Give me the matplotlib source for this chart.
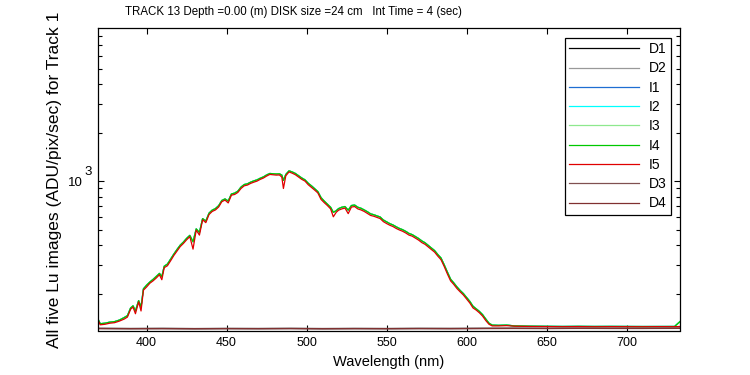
import matplotlib
matplotlib.use("Agg")
import matplotlib.pyplot as plt
from matplotlib.ticker import FixedLocator, LogLocator, NullFormatter

# wavelength grid (nm) of the light spectra
wl = [369.6, 371, 374, 377, 380, 383, 386, 388, 390, 391.5, 393, 395, 396.5, 398,
      400, 402, 404, 406, 408, 409.5, 411, 413, 415, 417, 419, 421, 423, 425, 427,
      429, 431, 433, 435, 437, 439, 441, 443, 445, 447, 449, 451, 453, 455, 457,
      459, 461, 463, 465, 467, 469, 471, 473, 475, 477, 479, 481, 483, 484.5, 485.5,
      487, 489, 491, 493, 495, 497, 499, 501, 503, 505, 507, 509, 511, 513, 515,
      516.7, 518.5, 520, 522, 524, 526, 528, 530, 532, 534, 536, 538, 540, 542,
      544, 546, 548, 550, 552, 554, 556, 558, 560, 562, 564, 566, 568, 570, 572,
      574, 576, 578, 580, 582, 584, 586, 588, 590, 592, 594, 596, 598, 600, 602,
      604, 606, 608, 610, 612, 614, 616, 620, 625, 630, 640, 650, 660, 670, 680,
      690, 700, 710, 720, 730, 733.4]

# I5 (red)
lu_i5 = [137, 128, 129, 131, 132, 135, 139, 143, 160, 165, 150, 178, 156, 210,
         220, 232, 240, 250, 262, 244, 290, 298, 320, 345, 368, 392, 410, 432, 452,
         378, 496, 462, 575, 552, 620, 648, 662, 690, 745, 762, 732, 818, 826, 850,
         900, 935, 945, 968, 985, 1000, 1025, 1045, 1075, 1100, 1095, 1090, 1092, 1060, 900,
         1080, 1140, 1120, 1095, 1060, 1025, 1000, 950, 915, 880, 845, 770, 735, 705, 672,
         600, 640, 660, 672, 680, 628, 690, 695, 672, 662, 648, 630, 612, 605,
         595, 585, 560, 545, 532, 522, 508, 497, 488, 476, 462, 455, 442, 430, 415,
         405, 390, 376, 362, 342, 325, 295, 265, 240, 228, 215, 205, 196, 185, 175,
         163, 158, 152, 145, 136, 129, 126, 126, 126.5, 125.5, 125, 124.8, 124.6, 124.8, 124.5,
         124.7, 124.6, 124.5, 124.7, 124.6, 125]

# I4 (green); I1-I3 sit right underneath it
lu_i4 = [139, 130, 131, 133, 134, 137, 142, 146, 163, 168, 156, 181, 165, 214,
         226, 236, 245, 256, 267, 255, 296, 305, 328, 352, 376, 400, 418, 441, 460,
         420, 505, 480, 585, 565, 632, 660, 675, 703, 758, 775, 752, 832, 842, 866,
         918, 952, 962, 985, 1003, 1018, 1042, 1062, 1092, 1115, 1112, 1108, 1110, 1090, 1010,
         1100, 1158, 1140, 1115, 1080, 1045, 1018, 970, 935, 898, 862, 790, 752, 720, 688,
         640, 655, 675, 688, 695, 660, 705, 710, 688, 678, 662, 645, 626, 618,
         608, 598, 573, 558, 544, 534, 520, 508, 499, 487, 473, 465, 452, 440, 425,
         414, 399, 385, 370, 350, 333, 302, 272, 246, 233, 220, 209, 200, 189, 179,
         167, 161, 155, 148, 139, 131, 127.5, 127, 127.5, 126, 125.5, 125.3, 125, 125.2, 125,
         125.1, 125, 124.9, 125, 125, 134]
lu_i1 = lu_i4
lu_i2 = lu_i4
lu_i3 = lu_i4

# dark frames
wl_dark = [369.6, 390, 410, 430, 450, 470, 490, 510, 530, 550, 570, 590, 610,
           630, 650, 670, 690, 710, 733.4]
lu_d1 = [121.6, 121.3, 121.5, 121.2, 121.4, 121.3, 121.5, 121.2, 121.4, 121.3,
         121.5, 121.4, 121.6, 121.8, 121.6, 121.9, 121.7, 121.8, 122.0]
lu_d2 = [121.9, 121.6, 121.8, 121.5, 121.7, 121.6, 121.8, 121.6, 121.7, 121.5,
         121.8, 121.7, 121.9, 122.1, 121.9, 122.2, 122.0, 122.1, 122.3]
lu_d3 = [121.2, 121.0, 121.1, 120.9, 121.1, 121.0, 121.2, 120.9, 121.1, 121.0,
         121.2, 121.1, 121.3, 121.4, 121.3, 121.5, 121.4, 121.4, 121.6]
lu_d4 = [121.4, 121.2, 121.3, 121.1, 121.3, 121.2, 121.4, 121.1, 121.3, 121.2,
         121.4, 121.3, 121.5, 121.6, 121.5, 121.7, 121.6, 121.6, 121.8]

x_ticks = [400, 450, 500, 550, 600, 650, 700]
y_decades = [3]

plt.rcParams['font.family'] = ['Liberation Sans', 'DejaVu Sans']

fig = plt.figure(figsize=(7.5, 3.75), dpi=100)
ax = fig.add_axes([98 / 750, 1 - 330.5 / 375, 582 / 750, 302.2 / 375])

series = [
    ("D1", wl_dark, lu_d1, "black"),
    ("D2", wl_dark, lu_d2, "#999999"),
    ("I1", wl, lu_i1, "#1e6ed2"),
    ("I2", wl, lu_i2, "#00ffff"),
    ("I3", wl, lu_i3, "#8ee88e"),
    ("I4", wl, lu_i4, "#00c800"),
    ("I5", wl, lu_i5, "#e00000"),
    ("D3", wl_dark, lu_d3, "#805050"),
    ("D4", wl_dark, lu_d4, "#803030"),
]
for name, x, y, c in series:
    ax.plot(x, y, color=c, lw=0.9, label=name)

ax.set_yscale("log")
ax.set_xlim(369.6, 733.4)
ax.set_ylim(118, 8900)
ax.xaxis.set_major_locator(FixedLocator(x_ticks))
ax.yaxis.set_minor_locator(LogLocator(base=10, subs=range(2, 10)))
ax.yaxis.set_minor_formatter(NullFormatter())
ax.yaxis.set_major_formatter(NullFormatter())

ax.tick_params(which="both", direction="in", top=True, right=True, labelsize=9,
               width=0.8, colors="black")
ax.tick_params(which="major", length=4.3)
ax.tick_params(which="minor", length=2.9)
ax.tick_params(axis="x", pad=5)
for sp in ax.spines.values():
    sp.set_linewidth(0.9)

# matlab-style 10^n labels, exponent drawn at full size
for d in y_decades:
    ax.annotate("10", xy=(0, 10 ** d), xycoords=("axes fraction", "data"),
                xytext=(-15, -2), textcoords="offset pixels",
                ha="right", va="center", fontsize=9.5)
    ax.annotate(str(d), xy=(0, 10 ** d), xycoords=("axes fraction", "data"),
                xytext=(-14, 9), textcoords="offset pixels",
                ha="left", va="center", fontsize=9.5)

ax.set_xlabel("Wavelength (nm)", fontsize=10.5)
ax.xaxis.set_label_coords(0.5, -0.082)
ax.set_ylabel("All five Lu images (ADU/pix/sec) for Track 1", fontsize=12.5)
ax.yaxis.set_label_coords(-0.062, 0.5)

fig.text(293 / 750, 1 - 12.5 / 375,
         "TRACK 13 Depth =0.00 (m) DISK size =24 cm   Int Time = 4 (sec)",
         fontsize=8.3, ha="center", va="center")

leg = ax.legend(loc="upper right", bbox_to_anchor=((671 - 98) / 582, (330.5 - 38) / 302.2),
                borderaxespad=0, fontsize=10, fancybox=False, framealpha=1,
                edgecolor="black", handlelength=5.0, handletextpad=0.75,
                borderpad=0.3, labelspacing=0.38)
leg.get_frame().set_linewidth(0.9)

fig.savefig("out.png", dpi=100)
